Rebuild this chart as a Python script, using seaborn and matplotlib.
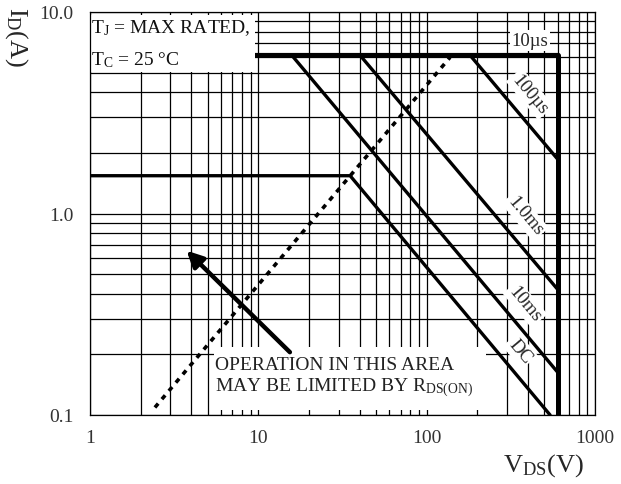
import numpy as np
import pandas as pd
import matplotlib
matplotlib.use("Agg")
import matplotlib.pyplot as plt
from matplotlib.patches import Rectangle
from matplotlib.ticker import FixedLocator, NullFormatter
import seaborn as sns

# safe operating area
v_max = 600.0
i_max = 6.1

limit_v = [1, v_max]
limit_i = [i_max, i_max]
bv_v = [v_max, v_max]
bv_i = [i_max, 0.1]

pulse_names = ["100µs", "1.0ms", "10ms"]
pulse_knee_v = [181, 40.2, 15.8]
pulse_end_i = [1.86, 0.42, 0.163]

dc_v = [1, 35.1, 541]
dc_i = [1.54, 1.54, 0.1]

rds_v = [2.43, 137.7]
rds_i = [0.109, 5.96]

arrow_tail = (15.4, 0.205)
arrow_head = (3.75, 0.654)

x_ticks = [1, 10, 100, 1000]
x_ticklabels = ["1", "10", "100", "1000"]
y_ticks = [0.1, 1, 10]
y_ticklabels = ["0.1", "1.0", "10.0"]

sns.set_style("white")
plt.rcParams["font.family"] = ["Liberation Serif", "DejaVu Serif"]
plt.rcParams["mathtext.fontset"] = "custom"
plt.rcParams["mathtext.rm"] = "Liberation Serif"
plt.rcParams["mathtext.it"] = "Liberation Serif:italic"

fig = plt.figure(figsize=(6.21, 4.85), dpi=100)
ax = fig.add_axes([90 / 621, 1 - 416 / 485, 505 / 621, 403 / 485])
ax.set_xscale("log")
ax.set_yscale("log")

# limit lines
sns.lineplot(x=limit_v, y=limit_i, ax=ax, color="black", lw=3.0, sort=False,
             estimator=None, zorder=1)
sns.lineplot(x=bv_v, y=bv_i, ax=ax, color="black", lw=3.6, sort=False,
             estimator=None, zorder=3)

for name, kv, ei in zip(pulse_names, pulse_knee_v, pulse_end_i):
    df = pd.DataFrame({"v": [kv, v_max], "i": [i_max, ei]})
    sns.lineplot(data=df, x="v", y="i", ax=ax, color="black", lw=2.4, sort=False,
                 estimator=None, zorder=3)

sns.lineplot(x=dc_v, y=dc_i, ax=ax, color="black", lw=2.4, sort=False,
             estimator=None, zorder=3)
sns.lineplot(x=rds_v, y=rds_i, ax=ax, color="black", lw=2.6, sort=False,
             estimator=None, zorder=3, linestyle=(0, (1.4, 1.6)))

ax.set_xlim(1, 1000)
ax.set_ylim(0.1, 10)
ax.set_xlabel("")
ax.set_ylabel("")

# grid
ax.xaxis.set_major_locator(FixedLocator(x_ticks))
ax.yaxis.set_major_locator(FixedLocator(y_ticks))
ax.xaxis.set_minor_locator(FixedLocator([m * 10 ** d for d in range(3) for m in range(2, 10)]))
ax.yaxis.set_minor_locator(FixedLocator([m * 10 ** d for d in (-1, 0) for m in range(2, 10)]))
ax.xaxis.set_minor_formatter(NullFormatter())
ax.yaxis.set_minor_formatter(NullFormatter())
ax.set_xticklabels(x_ticklabels)
ax.set_yticklabels(y_ticklabels)
ax.grid(True, which="both", color="black", lw=0.9, zorder=0)
ax.set_axisbelow(True)
ax.tick_params(which="both", length=0, labelsize=14, labelcolor="#333333")
ax.tick_params(axis="x", pad=10)
ax.tick_params(axis="y", pad=12)
for s in ax.spines.values():
    s.set_color("black")
    s.set_linewidth(0.9)

# white boxes behind the notes
ax.add_patch(Rectangle((1.015, 5.04), 9.56 - 1.015, 9.7 - 5.04, facecolor="white",
                       edgecolor="none", zorder=2))
ax.add_patch(Rectangle((5.45, 0.106), 225 - 5.45, 0.2175 - 0.106, facecolor="white",
                       edgecolor="none", zorder=2))

ax.annotate("", xy=arrow_head, xytext=arrow_tail,
            arrowprops=dict(arrowstyle="-|>", lw=3.2, color="black",
                            mutation_scale=24, shrinkA=0, shrinkB=0), zorder=4)

# curve labels
box = dict(facecolor="white", edgecolor="none", pad=1.5)
ax.text(411, 7.2, "10µs", fontsize=13.5, ha="center", va="center", bbox=box, zorder=5)
label_pos = {"100µs": (411, 3.92), "1.0ms": (384, 0.976), "10ms": (384, 0.356), "DC": (359, 0.208)}
for name, (lx, ly) in label_pos.items():
    ax.text(lx, ly, name, fontsize=13.5, ha="center", va="center", rotation=-50,
            rotation_mode="anchor", bbox=box, zorder=5)

ax.text(1.02, 8.43, r"T$_\mathrm{J}$ = MAX RATED,", fontsize=14, ha="left", va="center",
        zorder=5, color="#111111")
ax.text(1.02, 5.84, r"T$_\mathrm{C}$ = 25 °C", fontsize=14, ha="left", va="center",
        zorder=5, color="#111111")
ax.text(5.5, 0.178, "OPERATION IN THIS AREA", fontsize=14, ha="left", va="center",
        zorder=5, color="#222222")
ax.text(5.5, 0.138, r"MAY BE LIMITED BY R$_\mathrm{DS(ON)}$", fontsize=14, ha="left",
        va="center", zorder=5, color="#222222")

fig.text(16 / 621, 1 - 37 / 485, r"I$_\mathrm{D}$(A)", fontsize=19, rotation=270,
         ha="center", va="center")
fig.text(543 / 621, 1 - 466 / 485, r"V$_\mathrm{DS}$(V)", fontsize=19,
         ha="center", va="center")

fig.savefig("out.png", dpi=100)
